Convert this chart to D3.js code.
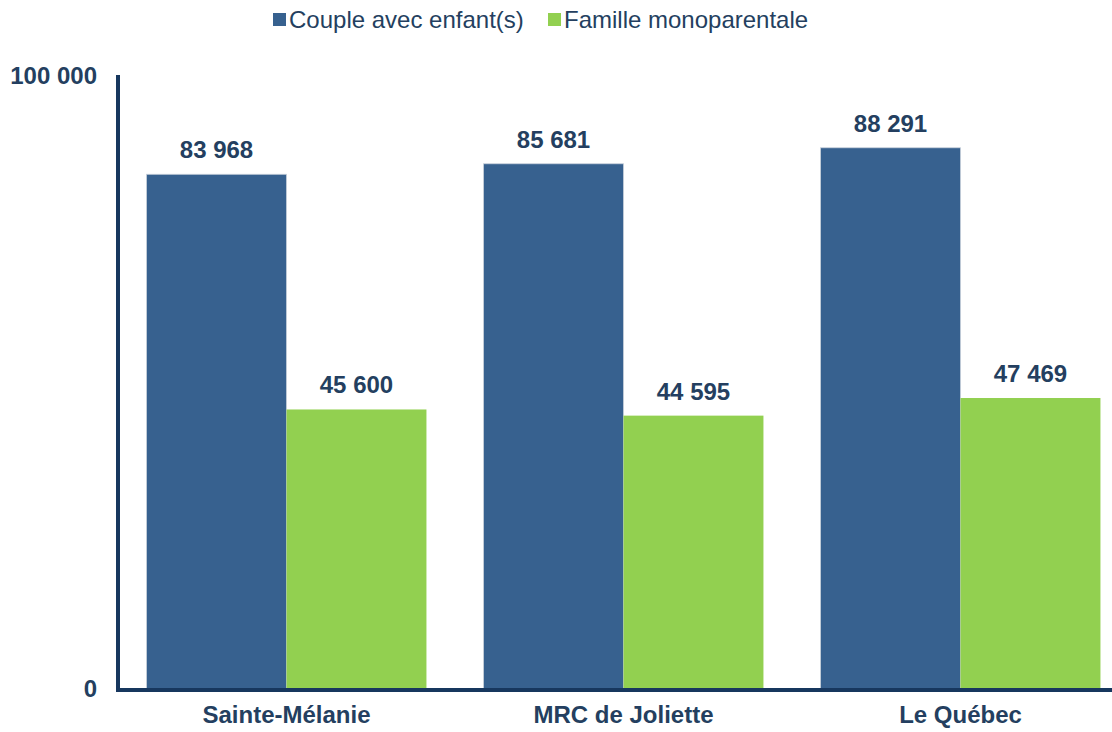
<!DOCTYPE html>
<html>
<head>
<meta charset="utf-8">
<script src="https://cdn.jsdelivr.net/npm/d3@7"></script>
<style>
  body { margin: 0; background: #fff; }
  text { font-family: "Liberation Sans", Arial, sans-serif; }
</style>
</head>
<body>
<svg id="plot" width="1112" height="732"></svg>
<script>
// data
var categories = ["Sainte-Mélanie", "MRC de Joliette", "Le Québec"];
var seriesNames = ["Couple avec enfant(s)", "Famille monoparentale"];
var couple = [83968, 85681, 88291];
var monoparentale = [45600, 44595, 47469];
var yTicks = [0, 100000];

var colors = ["#37618f", "#92d050"];
var textColor = "#243f60";
var axisColor = "#17375e";

var svg = d3.select("#plot");
var fmt = function(v){ return d3.format(",")(v).replace(/,/g, " "); };

// scales
var x = d3.scaleBand()
          .domain(categories)
          .range([118, 1129])
          .paddingInner(0)
          .paddingOuter(0);

var x1 = d3.scaleBand()
           .domain(seriesNames)
           .range([0, x.bandwidth()])
           .paddingOuter(0.204)
           .paddingInner(0);

var y = d3.scaleLinear()
          .domain([0, 100000])
          .range([689, 76]);

var rows = categories.map(function(c, i){
  return { cat: c, vals: [couple[i], monoparentale[i]] };
});

// bars
var groups = svg.selectAll("g.grp")
  .data(rows)
  .enter()
  .append("g")
  .attr("class", "grp")
  .attr("transform", function(d){ return "translate(" + x(d.cat) + ",0)"; });

groups.selectAll("rect")
  .data(function(d){ return d.vals.map(function(v, j){ return { name: seriesNames[j], v: v, j: j }; }); })
  .enter()
  .append("rect")
  .attr("x", function(d){ return x1(d.name); })
  .attr("width", x1.bandwidth())
  .attr("y", function(d){ return y(d.v); })
  .attr("height", function(d){ return y(0) - y(d.v); })
  .attr("fill", function(d){ return colors[d.j]; })
  .attr("stroke", function(d){ return d.j == 0 ? "#c8d0da" : "none"; })
  .attr("stroke-width", 0.8);

// value labels
groups.selectAll("text.val")
  .data(function(d){ return d.vals.map(function(v, j){ return { name: seriesNames[j], v: v }; }); })
  .enter()
  .append("text")
  .attr("class", "val")
  .attr("x", function(d){ return x1(d.name) + x1.bandwidth() / 2; })
  .attr("y", function(d){ return y(d.v) - 16; })
  .attr("text-anchor", "middle")
  .attr("font-size", 24)
  .attr("font-weight", "bold")
  .attr("fill", textColor)
  .text(function(d){ return fmt(d.v); });

// axes
var yAxis = d3.axisLeft(y).tickValues(yTicks).tickSize(0).tickPadding(21)
              .tickFormat(fmt);
var gy = svg.append("g").attr("transform", "translate(118,0)").call(yAxis);
gy.select(".domain").remove();
gy.selectAll("text")
  .attr("font-size", 24)
  .attr("font-weight", "bold")
  .attr("fill", textColor)
  .attr("font-family", "Liberation Sans, Arial, sans-serif");

svg.append("line")
  .attr("x1", 118).attr("x2", 118)
  .attr("y1", y(100000) - 1).attr("y2", y(0) + 3)
  .attr("stroke", axisColor).attr("stroke-width", 4);

var xAxis = d3.axisBottom(x).tickSize(0).tickPadding(16);
var gx = svg.append("g").attr("transform", "translate(0," + (y(0) + 1) + ")").call(xAxis);
gx.select(".domain").remove();
gx.selectAll("text")
  .attr("font-size", 24)
  .attr("font-weight", "bold")
  .attr("fill", textColor)
  .attr("font-family", "Liberation Sans, Arial, sans-serif");

svg.append("line")
  .attr("x1", 116).attr("x2", 1112)
  .attr("y1", y(0) + 1).attr("y2", y(0) + 1)
  .attr("stroke", axisColor).attr("stroke-width", 4);

// legend
var legendX = [273, 548];
var legend = svg.selectAll("g.leg")
  .data(seriesNames)
  .enter()
  .append("g")
  .attr("class", "leg")
  .attr("transform", function(d, i){ return "translate(" + legendX[i] + ",13)"; });

legend.append("rect")
  .attr("width", 13).attr("height", 13)
  .attr("fill", function(d, i){ return colors[i]; });

legend.append("text")
  .attr("x", 16).attr("y", 15)
  .attr("font-size", 24)
  .attr("fill", textColor)
  .text(function(d){ return d; });
</script>
</body>
</html>
